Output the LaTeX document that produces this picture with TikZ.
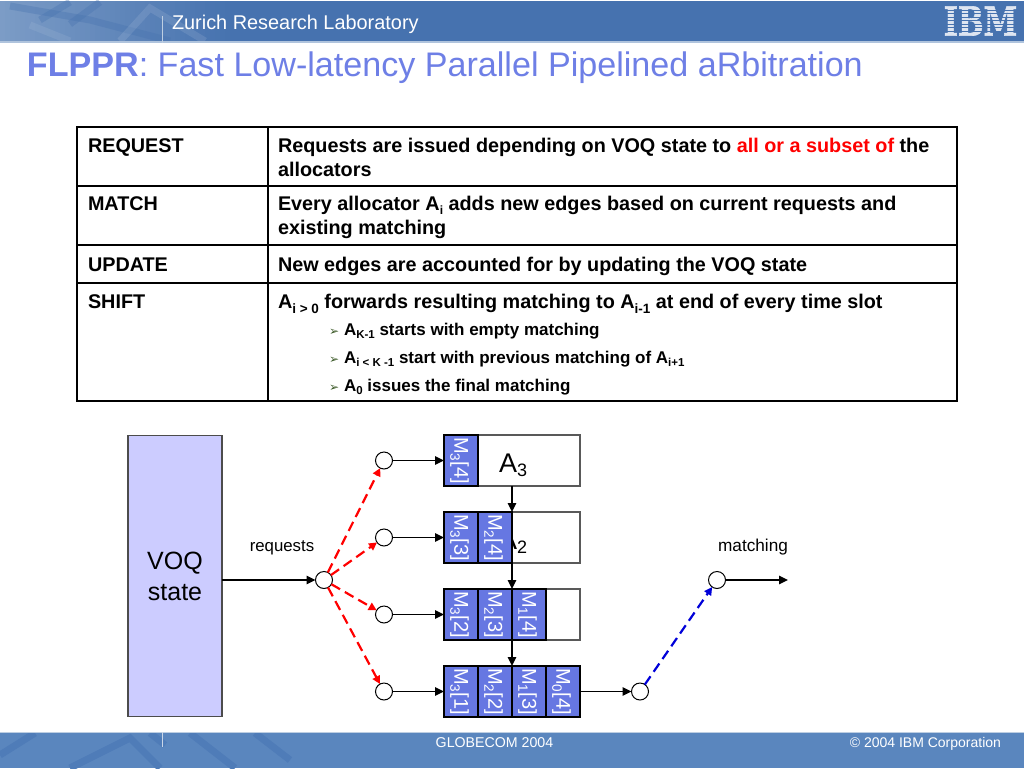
\documentclass[tikz,border=0pt]{standalone}
\usepackage{fontspec}
\setmainfont{Liberation Sans}
\newfontfamily\djv{DejaVu Sans}
\newfontfamily\logofont[BoldFeatures={FakeBold=1.5}]{DejaVu Serif}
\usetikzlibrary{arrows.meta}
\definecolor{hdr}{HTML}{4672AF}
\definecolor{hdrlight}{HTML}{7C9CC6}
\definecolor{ftr}{HTML}{5A86BE}
\definecolor{ftrdark}{HTML}{4F7CB8}
\definecolor{ttl}{HTML}{6E7FE6}
\definecolor{mfill}{HTML}{6677E2}
\definecolor{voqfill}{HTML}{CCCCFF}
\definecolor{subred}{HTML}{FF0000}
\definecolor{bulletc}{HTML}{3C5A28}
\newcommand{\lowsub}[1]{\raisebox{-0.22em}{\fontsize{12}{12}\selectfont #1}}
\newcommand{\widesub}[1]{\raisebox{-0.22em}{\fontsize{13.5}{13.5}\selectfont #1}}
\newcommand{\smallsub}[1]{\raisebox{-0.22em}{\fontsize{11.5}{11.5}\selectfont #1}}
\newcommand{\msub}[1]{\raisebox{-0.2em}{\fontsize{13.5}{13.5}\selectfont #1}}
\tikzset{
  x=1pt,y=-1pt,
  txt/.style={inner sep=0pt,outer sep=0pt,anchor=base west},
  celltxt/.style={inner sep=0pt,outer sep=0pt,anchor=north west,align=left,font=\bfseries\fontsize{19.8}{24}\selectfont},
  bultxt/.style={txt,font=\bfseries\fontsize{17}{20}\selectfont},
  bulmark/.style={txt,font=\djv\fontsize{12}{12}\selectfont,text=bulletc},
  rule/.style={line width=1.1pt,black},
  alloc/.style={draw=black!65,fill=white,line width=1.2pt,minimum width=136pt,minimum height=51pt,inner sep=0pt,outer sep=0pt},
  mcell/.style={draw=black,fill=mfill,line width=1.1pt,minimum width=34pt,minimum height=51pt,inner sep=0pt,outer sep=0pt},
  mlab/.style={rotate=-90,text=white,inner sep=0pt,font=\fontsize{20}{20}\selectfont},
  port/.style={circle,draw=black,fill=white,line width=1pt,minimum size=17pt,inner sep=0pt,outer sep=0pt},
  arr/.style={line width=1.4pt,black,-{Triangle[length=9pt,width=8.500pt]}},
  redd/.style={line width=2.2pt,red,dash pattern=on 10pt off 5.500pt,-{Triangle[length=8pt,width=8pt]}},
  blued/.style={line width=2.2pt,blue!85!black,dash pattern=on 10pt off 5.500pt,-{Triangle[length=8pt,width=8pt]}},
  deco/.style={line width=7pt,line cap=butt},
}
\begin{document}
\begin{tikzpicture}
\useasboundingbox (0,0) rectangle (1024,768);
\fill[white] (0,0) rectangle (1024,768);
% header band
\fill[hdr] (0,1) rectangle (1024,41);
\foreach \st in {0,1,...,46}{
  \pgfmathtruncatemacro{\pc}{100-\st*100/46}
  \fill[hdrlight!\pc!hdr] (\st*5,1) rectangle (\st*5+5.500,41);
}
\begin{scope}
\clip (0,1) rectangle (330,41);
\draw[deco,hdr,opacity=.35] (10,6)--(90,20)--(170,41);
\draw[deco,hdr,opacity=.35] (70,2)--(40,20);
\draw[deco,hdr,opacity=.35] (100,2)--(70,24);
\draw[deco,white,opacity=.1] (120,41)--(150,8)--(205,41);
\draw[deco,white,opacity=.08] (30,25)--(70,41);
\end{scope}
\fill[hdrlight!60!white] (0,41) rectangle (1024,43);
\draw[hdrlight!50!white,line width=1pt] (162,16)--(162,43);
\node[txt,text=white,font=\fontsize{19.900}{20}\selectfont] (lab) at (172,30) {Zurich Research Laboratory};
% IBM logo
\node[inner sep=0pt,text=white!82!hdr,font=\logofont\bfseries\fontsize{40}{40}\selectfont] (ibm) at (980.500,21) {\scalebox{.76}[1]{IBM}};
\foreach \yy in {9.800,13.300,16.800,20.300,23.800,27.300,30.800}{\fill[hdr] (940,\yy) rectangle (1020,\yy+0.9);}
% footer band
\fill[ftr] (0,732) rectangle (1024,768);
\begin{scope}
\clip (0,733) rectangle (1024,768);
\draw[deco,ftrdark] (70,768)--(130,738)--(160,768);
\draw[deco,ftrdark] (0,755)--(35,733);
\draw[deco,ftrdark] (190,733)--(235,768);
\draw[deco,ftrdark] (150,733)--(165,745);
\draw[deco,ftrdark] (255,733)--(290,760);
\end{scope}
\fill[hdrlight!50!white] (0,731.500) rectangle (1024,733);
\draw[hdrlight!40!white,line width=1pt] (162,732)--(162,747);
\node[txt,anchor=base,text=white,font=\fontsize{14.200}{14}\selectfont] (conf) at (494.500,747) {GLOBECOM 2004};
\node[txt,anchor=base east,text=white,font=\fontsize{14}{14}\selectfont] (copy) at (1001,747) {© 2004 IBM Corporation};
% title
\node[txt,text=ttl,font=\fontsize{34.100}{34}\selectfont] (title) at (27,76) {\textbf{FLPPR}: Fast Low-latency Parallel Pipelined aRbitration};
% table
\draw[rule] (77,127) rectangle (957,401);
\draw[rule] (268,127)--(268,401);
\draw[rule] (77,186)--(957,186) (77,245)--(957,245) (77,283)--(957,283);
\node[celltxt] (r1) at (88,138.500) {REQUEST};
\node[celltxt] (r2) at (88,197) {MATCH};
\node[celltxt] (r3) at (88,257.500) {UPDATE};
\node[celltxt] (r4) at (88,294.500) {SHIFT};
\node[celltxt] (c1) at (278,138) {Requests are issued depending on VOQ state to \textcolor{subred}{all or a subset of} the\\allocators};
\node[celltxt] (c2) at (278,196) {Every allocator A\lowsub{i} adds new edges based on current requests and\\existing matching};
\node[celltxt] (c3) at (278,257) {New edges are accounted for by updating the VOQ state};
\node[celltxt] (c4) at (278,294.500) {A\widesub{i > 0} forwards resulting matching to A\widesub{i-1} at end of every time slot};
\node[bulmark] (b1) at (329,335) {➢};
\node[bulmark] (b2) at (329,363) {➢};
\node[bulmark] (b3) at (329,391) {➢};
\node[bultxt] (t1) at (344,335) {A\smallsub{K-1} starts with empty matching};
\node[bultxt] (t2) at (344,363) {A\smallsub{i < K -1} start with previous matching of A\smallsub{i+1}};
\node[bultxt] (t3) at (344,391) {A\smallsub{0} issues the final matching};
% VOQ
\node[draw=black!70,fill=voqfill,line width=1.2pt,minimum width=94pt,minimum height=281pt,inner sep=0pt,outer sep=0pt,align=center,font=\fontsize{25}{31}\selectfont] (voq) at (175,576) {VOQ\\state};
% allocators
\node[alloc] (a3) at (512,460.500) {};
\node[alloc] (a2) at (512,537.500) {};
\node[alloc] (a1) at (512,614.500) {};
\node[alloc] (a0) at (512,691.500) {};
\node[txt,font=\fontsize{27}{27}\selectfont] (a3lab) at (499,472) {A\raisebox{-0.16em}{\fontsize{18}{18}\selectfont 3}};
\node[txt,font=\fontsize{27}{27}\selectfont] (a2lab) at (499,549) {A\raisebox{-0.16em}{\fontsize{18}{18}\selectfont 2}};
% cells
\foreach \nm/\xx/\yy/\su/\br in {
  ma/461/460.5/3/4,
  mb/461/537.5/3/3, mc/495/537.5/2/4,
  md/461/614.5/3/2, me/495/614.5/2/3, mf/529/614.5/1/4,
  mg/461/691.5/3/1, mh/495/691.5/2/2, mi/529/691.5/1/3, mj/563/691.5/0/4}{
  \node[mcell] (\nm) at (\xx,\yy) {};
  \node[mlab] (\nm t) at (\xx-1.5,\yy) {M\msub{\su}[\br]};
}
% ports
\node[port] (p3) at (384,460.500) {};
\node[port] (p2) at (384,537.500) {};
\node[port] (p1) at (384,614.500) {};
\node[port] (p0) at (384,691.500) {};
\node[port] (split) at (324,580) {};
\node[port] (outp) at (640,691.500) {};
\node[port] (merge) at (717,580) {};
\coordinate (end) at (788,580);
% connectors
\draw[arr] (voq.east |- split) -- (split);
\draw[arr] (p3) -- (ma.west);
\draw[arr] (p2) -- (mb.west);
\draw[arr] (p1) -- (md.west);
\draw[arr] (p0) -- (mg.west);
\draw[arr] (mj.east) -- (outp);
\draw[arr] (merge) -- (end);
\draw[arr] (a3.south) -- (a2.north);
\draw[arr] (a2.south) -- (a1.north);
\draw[arr] (a1.south) -- (a0.north);
\draw[redd] (split) -- (p3);
\draw[redd] (split) -- (p2);
\draw[redd] (split) -- (p1);
\draw[redd] (split) -- (p0);
\draw[blued] (outp) -- (merge);
% labels
\node[txt,anchor=base,font=\fontsize{16.800}{17}\selectfont] (req) at (282,551) {requests};
\node[txt,anchor=base,font=\fontsize{17.200}{17}\selectfont] (mat) at (753,551) {matching};
\end{tikzpicture}
\end{document}
